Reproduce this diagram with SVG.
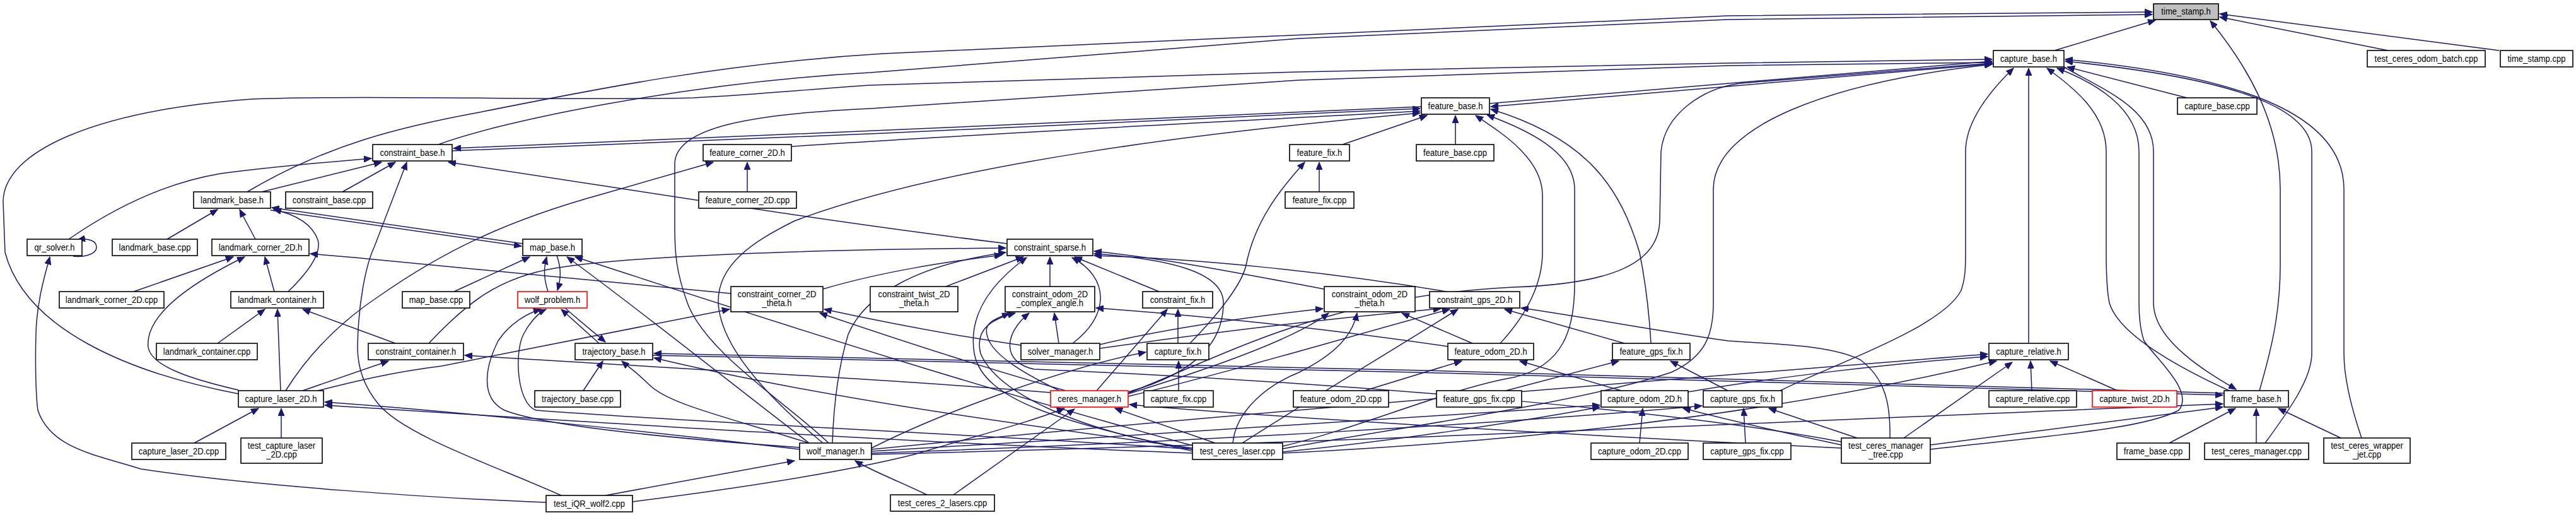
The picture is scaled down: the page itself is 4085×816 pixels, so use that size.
<svg xmlns="http://www.w3.org/2000/svg" width="4085" height="816" viewBox="0 0 4085 816">
<style>
.n rect{fill:#fff;stroke:#000;stroke-width:1.6}
.r rect{stroke:#ff0000}
.g rect{fill:#bfbfbf}
text{font-family:"Liberation Sans",Arial,sans-serif;font-size:15px;text-anchor:middle;fill:#000}
#edges path{fill:none;stroke:#191970;stroke-width:1.5;marker-end:url(#a)}
</style>
<defs><marker id="a" markerUnits="userSpaceOnUse" markerWidth="13" markerHeight="10" refX="12" refY="5" orient="auto" viewBox="0 0 13 10"><path d="M0,0L12,5L0,10z" fill="#191970" stroke="#191970"/></marker></defs>
<rect width="4085" height="816" fill="#fff"/>
<g id="edges">
<path d="M3258,80 L3418,32"/>
<path d="M3583,619 C3600,560 3616,500 3616,420 L3616,300 C3616,190 3560,100 3505,33"/>
<path d="M3787,80 L3520,27"/>
<path d="M3963,80 L3520,22"/>
<path d="M392,304 C520,228 640,200 760,178 C950,140 1150,100 1400,85 L2740,25 L3413,19"/>
<path d="M695,229 C800,190 1100,130 1380,115 L2060,61 L2740,31 L3413,23"/>
<path d="M2362,164 L3159,97"/>
<path d="M3161,101 L2364,169"/>
<path d="M378,624 C200,590 40,520 8,400 L5,320 C5,240 150,175 400,157 C600,150 900,160 1100,155 C1200,150 1300,140 1380,135 L2060,114 L2740,100 L3159,94"/>
<path d="M1314,702 C1250,640 1120,560 1090,480 C1072,430 1070,400 1070,360 L1070,260 C1070,200 1200,180 1380,172 L2060,127 L2740,104 L3159,99"/>
<path d="M3217,544 L3217,108"/>
<path d="M2823,619 C2900,580 3080,520 3110,460 C3117,440 3117,420 3117,400 L3117,240 C3117,190 3160,140 3193,108"/>
<path d="M3535,619 C3450,580 3360,530 3345,480 C3341,460 3340,430 3340,400 L3340,240 C3340,180 3290,140 3246,108"/>
<path d="M3061,712 C3250,690 3400,680 3455,650 C3480,620 3420,570 3400,540 C3393,520 3392,500 3392,480 L3392,240 C3392,170 3320,130 3262,108"/>
<path d="M3273,106 C3330,140 3415,170 3415,240 L3415,480 C3415,540 3500,590 3546,617"/>
<path d="M3468,155 L3278,106"/>
<path d="M3592,702 C3630,650 3666,600 3666,560 L3666,240 C3666,160 3500,120 3275,97"/>
<path d="M3745,694 C3730,650 3717,600 3717,560 L3717,300 C3717,180 3550,120 3275,94"/>
<path d="M1789,623 C1950,560 2100,470 2400,455 C2550,450 2630,420 2632,350 L2634,240 C2640,180 2700,140 2760,132 L3159,100"/>
<path d="M2034,711 C2200,680 2500,640 2650,590 C2705,565 2717,530 2717,480 L2717,300 C2717,200 2900,130 3159,102"/>
<path d="M717,239 C1200,220 1800,195 2252,172"/>
<path d="M2254,169 C1800,190 1200,215 719,235"/>
<path d="M1256,232 C1500,215 1900,195 2252,176"/>
<path d="M1305,702 C1230,640 1150,560 1140,490 C1130,420 1200,380 1260,350 C1500,260 1900,210 2252,179"/>
<path d="M2129,229 L2263,183"/>
<path d="M2308,229 L2308,183"/>
<path d="M2379,544 C2420,500 2446,450 2446,400 L2446,310 C2446,250 2380,210 2340,183"/>
<path d="M2034,707 C2150,680 2300,615 2400,598 C2480,580 2497,520 2497,450 L2497,300 C2497,240 2420,205 2358,182"/>
<path d="M2618,544 C2615,490 2610,450 2600,400 C2570,300 2520,220 2364,173"/>
<path d="M109,379 C180,330 260,290 350,275 C450,262 520,257 589,251"/>
<path d="M415,304 L605,257"/>
<path d="M543,304 L627,257"/>
<path d="M890,785 C790,740 640,690 600,640 C575,610 567,580 567,550 C568,480 580,420 594,390 L645,257"/>
<path d="M1597,386 C1300,350 1000,300 711,257"/>
<path d="M265,379 L345,332"/>
<path d="M405,379 L380,332"/>
<path d="M457,462 C490,430 510,400 504,380 C495,355 470,340 434,332"/>
<path d="M829,386 L431,329"/>
<path d="M429,333 L827,390"/>
<path d="M720,462 L840,407"/>
<path d="M869,462 C862,440 862,425 867,407"/>
<path d="M1283,702 C1150,600 1000,480 899,407"/>
<path d="M1891,706 C1500,600 1200,500 912,407"/>
<path d="M883,405 C890,425 890,440 884,460"/>
<path d="M950,544 L890,490"/>
<path d="M1268,709 C1000,690 850,670 800,650 C760,630 770,580 790,540 C810,510 840,495 858,490"/>
<path d="M1891,712 C1600,690 1100,670 850,650 C820,640 815,560 830,530 C840,510 855,495 866,490"/>
<path d="M896,488 C915,505 940,525 960,542"/>
<path d="M3527,623 C3000,605 2040,580 1360,567 L1037,560"/>
<path d="M1035,563 L1360,570 C2040,583 3000,609 3525,626"/>
<path d="M925,619 L956,572"/>
<path d="M1283,702 C1150,660 1060,640 1030,610 C1010,590 995,580 986,572"/>
<path d="M1891,710 C1600,670 1300,630 1037,567"/>
<path d="M1305,458 C1400,430 1500,415 1589,404"/>
<path d="M680,544 C740,480 790,440 880,425 C1000,405 1300,395 1595,393"/>
<path d="M1500,454 L1623,407"/>
<path d="M1665,454 L1665,407"/>
<path d="M1838,462 L1704,407"/>
<path d="M1701,544 C1760,500 1760,440 1700,408"/>
<path d="M1891,715 C1700,670 1560,640 1545,560 C1535,500 1570,450 1628,408"/>
<path d="M1789,621 C1900,590 1940,540 1940,480 C1940,430 1850,410 1735,402"/>
<path d="M1320,702 C1322,640 1330,580 1345,530 C1370,470 1450,420 1595,400"/>
<path d="M2100,458 C1950,430 1850,410 1735,398"/>
<path d="M2294,462 C2100,430 1900,410 1735,405"/>
<path d="M1679,544 L1672,496"/>
<path d="M1680,619 C1620,590 1570,560 1565,530 C1560,510 1580,505 1601,496"/>
<path d="M1891,712 C1700,680 1580,620 1555,560 C1545,520 1575,505 1610,496"/>
<path d="M2296,549 C2100,520 1900,500 1738,488"/>
<path d="M2920,700 C2600,640 2000,600 1640,585 C1590,575 1590,530 1632,496"/>
<path d="M504,619 C560,605 620,590 700,580 C850,550 1000,520 1157,490"/>
<path d="M1619,547 C1500,530 1400,510 1307,490"/>
<path d="M1690,619 C1550,580 1400,530 1300,496"/>
<path d="M212,462 L370,407"/>
<path d="M435,462 L420,407"/>
<path d="M378,618 C300,600 240,580 235,550 C230,500 300,450 388,407"/>
<path d="M1159,465 C900,440 700,420 492,402"/>
<path d="M345,544 L420,490"/>
<path d="M445,619 L440,490"/>
<path d="M627,544 L480,490"/>
<path d="M480,619 L616,572"/>
<path d="M1666,622 C1400,600 1000,580 737,563"/>
<path d="M1185,304 L1185,257"/>
<path d="M453,619 C490,560 540,510 600,470 C700,400 800,350 957,307 L1131,257"/>
<path d="M2092,304 L2092,257"/>
<path d="M1887,544 C1930,500 1970,450 1976,420 C1990,350 2030,300 2069,257"/>
<path d="M1868,544 L1868,490"/>
<path d="M1739,619 L1851,490"/>
<path d="M1869,619 L1869,572"/>
<path d="M1382,710 C1500,650 1700,580 1817,558"/>
<path d="M2335,544 L2223,496"/>
<path d="M1744,546 C1850,520 2000,500 2098,489"/>
<path d="M1789,624 C1900,590 2050,540 2107,496"/>
<path d="M1955,702 C1960,650 2010,610 2060,590 C2120,560 2145,530 2152,496"/>
<path d="M1970,702 C2050,650 2200,560 2312,490"/>
<path d="M1789,628 C1950,590 2150,530 2299,490"/>
<path d="M1744,552 C1900,530 2100,505 2285,489"/>
<path d="M2576,544 L2386,490"/>
<path d="M2997,694 C2998,640 2990,600 2950,570 C2900,545 2800,545 2740,540 C2600,520 2500,500 2412,488"/>
<path d="M2164,619 L2318,572"/>
<path d="M2571,619 L2410,572"/>
<path d="M2388,619 L2567,572"/>
<path d="M2740,619 L2649,572"/>
<path d="M3222,619 L3220,572"/>
<path d="M3358,619 L3251,572"/>
<path d="M3019,694 L3191,574"/>
<path d="M2034,718 C2400,700 2800,660 3166,572"/>
<path d="M2677,621 C2800,600 3000,575 3152,565"/>
<path d="M1382,712 C2000,650 2800,590 3152,561"/>
<path d="M2600,702 L2605,647"/>
<path d="M1382,715 C1800,690 2300,660 2537,642"/>
<path d="M2920,705 C2800,680 2720,660 2669,647"/>
<path d="M2034,716 C2200,700 2400,670 2537,645"/>
<path d="M2768,702 L2765,647"/>
<path d="M2945,694 L2805,647"/>
<path d="M1382,718 C1900,700 2400,670 2699,643"/>
<path d="M3440,702 L3545,647"/>
<path d="M3578,702 L3578,647"/>
<path d="M3712,694 L3613,647"/>
<path d="M3061,705 C3250,680 3400,660 3525,645"/>
<path d="M1382,720 C2200,700 3000,660 3525,640"/>
<path d="M960,785 L1260,730"/>
<path d="M1470,784 C1420,760 1380,745 1356,730"/>
<path d="M1927,702 L1768,647"/>
<path d="M1512,784 L1704,648"/>
<path d="M1003,795 C1200,770 1350,745 1450,720 C1550,690 1630,670 1688,647"/>
<path d="M2920,710 C2500,690 2000,660 1791,641"/>
<path d="M308,702 L410,647"/>
<path d="M446,694 L446,647"/>
<path d="M1268,712 C1000,680 700,650 515,637"/>
<path d="M1891,718 C1400,700 800,660 515,642"/>
<path d="M116,406 C135,408 153,402 153,392 C153,381 140,377 123,380"/>
<path d="M866,796 C700,790 400,770 223,743 C150,720 80,710 60,650 C56,620 56,560 57,530 C58,480 70,440 79,407"/>
</g>
<g id="n_time_stamp_h" class="n g"><rect x="3415" y="6" width="103" height="25"/><text transform="translate(3466.5,23) scale(0.87,1)">time_stamp.h</text></g>
<g id="n_capture_base_h" class="n"><rect x="3161" y="80" width="112" height="26"/><text transform="translate(3217,98) scale(0.87,1)">capture_base.h</text></g>
<g id="n_test_ceres_odom_batch_cpp" class="n"><rect x="3754" y="80" width="187" height="26"/><text transform="translate(3847.5,98) scale(0.87,1)">test_ceres_odom_batch.cpp</text></g>
<g id="n_time_stamp_cpp" class="n"><rect x="3965" y="80" width="115" height="26"/><text transform="translate(4022.5,98) scale(0.87,1)">time_stamp.cpp</text></g>
<g id="n_feature_base_h" class="n"><rect x="2254" y="155" width="108" height="26"/><text transform="translate(2308,173) scale(0.87,1)">feature_base.h</text></g>
<g id="n_capture_base_cpp" class="n"><rect x="3453" y="155" width="126" height="26"/><text transform="translate(3516,173) scale(0.87,1)">capture_base.cpp</text></g>
<g id="n_constraint_base_h" class="n"><rect x="591" y="229" width="126" height="26"/><text transform="translate(654,247) scale(0.87,1)">constraint_base.h</text></g>
<g id="n_feature_corner_2D_h" class="n"><rect x="1115" y="229" width="140" height="26"/><text transform="translate(1185,247) scale(0.87,1)">feature_corner_2D.h</text></g>
<g id="n_feature_fix_h" class="n"><rect x="2045" y="229" width="95" height="26"/><text transform="translate(2092.5,247) scale(0.87,1)">feature_fix.h</text></g>
<g id="n_feature_base_cpp" class="n"><rect x="2246" y="229" width="123" height="26"/><text transform="translate(2307.5,247) scale(0.87,1)">feature_base.cpp</text></g>
<g id="n_landmark_base_h" class="n"><rect x="307" y="304" width="122" height="26"/><text transform="translate(368,322) scale(0.87,1)">landmark_base.h</text></g>
<g id="n_constraint_base_cpp" class="n"><rect x="453" y="304" width="138" height="26"/><text transform="translate(522,322) scale(0.87,1)">constraint_base.cpp</text></g>
<g id="n_feature_corner_2D_cpp" class="n"><rect x="1108" y="304" width="155" height="26"/><text transform="translate(1185.5,322) scale(0.87,1)">feature_corner_2D.cpp</text></g>
<g id="n_feature_fix_cpp" class="n"><rect x="2038" y="304" width="109" height="26"/><text transform="translate(2092.5,322) scale(0.87,1)">feature_fix.cpp</text></g>
<g id="n_qr_solver_h" class="n"><rect x="43" y="379" width="87" height="26"/><text transform="translate(86.5,397) scale(0.87,1)">qr_solver.h</text></g>
<g id="n_landmark_base_cpp" class="n"><rect x="178" y="379" width="135" height="26"/><text transform="translate(245.5,397) scale(0.87,1)">landmark_base.cpp</text></g>
<g id="n_landmark_corner_2D_h" class="n"><rect x="336" y="379" width="154" height="26"/><text transform="translate(413,397) scale(0.87,1)">landmark_corner_2D.h</text></g>
<g id="n_map_base_h" class="n"><rect x="829" y="379" width="94" height="26"/><text transform="translate(876,397) scale(0.87,1)">map_base.h</text></g>
<g id="n_constraint_sparse_h" class="n"><rect x="1597" y="379" width="136" height="26"/><text transform="translate(1665,397) scale(0.87,1)">constraint_sparse.h</text></g>
<g id="n_landmark_corner_2D_cpp" class="n"><rect x="94" y="462" width="166" height="26"/><text transform="translate(177,480) scale(0.87,1)">landmark_corner_2D.cpp</text></g>
<g id="n_landmark_container_h" class="n"><rect x="366" y="462" width="147" height="26"/><text transform="translate(439.5,480) scale(0.87,1)">landmark_container.h</text></g>
<g id="n_map_base_cpp" class="n"><rect x="638" y="462" width="107" height="26"/><text transform="translate(691.5,480) scale(0.87,1)">map_base.cpp</text></g>
<g id="n_wolf_problem_h" class="n r"><rect x="821" y="462" width="110" height="26"/><text transform="translate(876,480) scale(0.87,1)">wolf_problem.h</text></g>
<g id="n_constraint_corner_2D_theta_h" class="n"><rect x="1159" y="454" width="146" height="40"/><text transform="translate(1232,471) scale(0.87,1)">constraint_corner_2D</text><text transform="translate(1232,485) scale(0.87,1)">_theta.h</text></g>
<g id="n_constraint_twist_2D_theta_h" class="n"><rect x="1380" y="454" width="139" height="40"/><text transform="translate(1449.5,471) scale(0.87,1)">constraint_twist_2D</text><text transform="translate(1449.5,485) scale(0.87,1)">_theta.h</text></g>
<g id="n_constraint_odom_2D_complex_angle_h" class="n"><rect x="1594" y="454" width="142" height="40"/><text transform="translate(1665,471) scale(0.87,1)">constraint_odom_2D</text><text transform="translate(1665,485) scale(0.87,1)">_complex_angle.h</text></g>
<g id="n_constraint_fix_h" class="n"><rect x="1812" y="462" width="111" height="26"/><text transform="translate(1867.5,480) scale(0.87,1)">constraint_fix.h</text></g>
<g id="n_constraint_odom_2D_theta_h" class="n"><rect x="2100" y="454" width="144" height="40"/><text transform="translate(2172,471) scale(0.87,1)">constraint_odom_2D</text><text transform="translate(2172,485) scale(0.87,1)">_theta.h</text></g>
<g id="n_constraint_gps_2D_h" class="n"><rect x="2267" y="462" width="143" height="26"/><text transform="translate(2338.5,480) scale(0.87,1)">constraint_gps_2D.h</text></g>
<g id="n_landmark_container_cpp" class="n"><rect x="248" y="544" width="160" height="26"/><text transform="translate(328,562) scale(0.87,1)">landmark_container.cpp</text></g>
<g id="n_constraint_container_h" class="n"><rect x="584" y="544" width="151" height="26"/><text transform="translate(659.5,562) scale(0.87,1)">constraint_container.h</text></g>
<g id="n_trajectory_base_h" class="n"><rect x="912" y="544" width="123" height="26"/><text transform="translate(973.5,562) scale(0.87,1)">trajectory_base.h</text></g>
<g id="n_solver_manager_h" class="n"><rect x="1619" y="544" width="125" height="26"/><text transform="translate(1681.5,562) scale(0.87,1)">solver_manager.h</text></g>
<g id="n_capture_fix_h" class="n"><rect x="1819" y="544" width="98" height="26"/><text transform="translate(1868,562) scale(0.87,1)">capture_fix.h</text></g>
<g id="n_feature_odom_2D_h" class="n"><rect x="2296" y="544" width="136" height="26"/><text transform="translate(2364,562) scale(0.87,1)">feature_odom_2D.h</text></g>
<g id="n_feature_gps_fix_h" class="n"><rect x="2557" y="544" width="123" height="26"/><text transform="translate(2618.5,562) scale(0.87,1)">feature_gps_fix.h</text></g>
<g id="n_capture_relative_h" class="n"><rect x="3154" y="544" width="126" height="26"/><text transform="translate(3217,562) scale(0.87,1)">capture_relative.h</text></g>
<g id="n_capture_laser_2D_h" class="n"><rect x="378" y="619" width="135" height="26"/><text transform="translate(445.5,637) scale(0.87,1)">capture_laser_2D.h</text></g>
<g id="n_trajectory_base_cpp" class="n"><rect x="848" y="619" width="136" height="26"/><text transform="translate(916,637) scale(0.87,1)">trajectory_base.cpp</text></g>
<g id="n_ceres_manager_h" class="n r"><rect x="1666" y="619" width="123" height="26"/><text transform="translate(1727.5,637) scale(0.87,1)">ceres_manager.h</text></g>
<g id="n_capture_fix_cpp" class="n"><rect x="1814" y="619" width="110" height="26"/><text transform="translate(1869,637) scale(0.87,1)">capture_fix.cpp</text></g>
<g id="n_feature_odom_2D_cpp" class="n"><rect x="2051" y="619" width="151" height="26"/><text transform="translate(2126.5,637) scale(0.87,1)">feature_odom_2D.cpp</text></g>
<g id="n_feature_gps_fix_cpp" class="n"><rect x="2278" y="619" width="135" height="26"/><text transform="translate(2345.5,637) scale(0.87,1)">feature_gps_fix.cpp</text></g>
<g id="n_capture_odom_2D_h" class="n"><rect x="2539" y="619" width="138" height="26"/><text transform="translate(2608,637) scale(0.87,1)">capture_odom_2D.h</text></g>
<g id="n_capture_gps_fix_h" class="n"><rect x="2701" y="619" width="125" height="26"/><text transform="translate(2763.5,637) scale(0.87,1)">capture_gps_fix.h</text></g>
<g id="n_capture_relative_cpp" class="n"><rect x="3154" y="619" width="139" height="26"/><text transform="translate(3223.5,637) scale(0.87,1)">capture_relative.cpp</text></g>
<g id="n_capture_twist_2D_h" class="n r"><rect x="3318" y="619" width="134" height="26"/><text transform="translate(3385,637) scale(0.87,1)">capture_twist_2D.h</text></g>
<g id="n_frame_base_h" class="n"><rect x="3527" y="619" width="102" height="26"/><text transform="translate(3578,637) scale(0.87,1)">frame_base.h</text></g>
<g id="n_capture_laser_2D_cpp" class="n"><rect x="209" y="702" width="149" height="26"/><text transform="translate(283.5,720) scale(0.87,1)">capture_laser_2D.cpp</text></g>
<g id="n_test_capture_laser_2D_cpp" class="n"><rect x="382" y="694" width="129" height="40"/><text transform="translate(446.5,711) scale(0.87,1)">test_capture_laser</text><text transform="translate(446.5,725) scale(0.87,1)">_2D.cpp</text></g>
<g id="n_wolf_manager_h" class="n"><rect x="1268" y="702" width="114" height="26"/><text transform="translate(1325,720) scale(0.87,1)">wolf_manager.h</text></g>
<g id="n_test_ceres_laser_cpp" class="n"><rect x="1891" y="702" width="143" height="26"/><text transform="translate(1962.5,720) scale(0.87,1)">test_ceres_laser.cpp</text></g>
<g id="n_capture_odom_2D_cpp" class="n"><rect x="2523" y="702" width="154" height="26"/><text transform="translate(2600,720) scale(0.87,1)">capture_odom_2D.cpp</text></g>
<g id="n_capture_gps_fix_cpp" class="n"><rect x="2701" y="702" width="139" height="26"/><text transform="translate(2770.5,720) scale(0.87,1)">capture_gps_fix.cpp</text></g>
<g id="n_test_ceres_manager_tree_cpp" class="n"><rect x="2920" y="694" width="141" height="40"/><text transform="translate(2990.5,711) scale(0.87,1)">test_ceres_manager</text><text transform="translate(2990.5,725) scale(0.87,1)">_tree.cpp</text></g>
<g id="n_frame_base_cpp" class="n"><rect x="3357" y="702" width="115" height="26"/><text transform="translate(3414.5,720) scale(0.87,1)">frame_base.cpp</text></g>
<g id="n_test_ceres_manager_cpp" class="n"><rect x="3496" y="702" width="165" height="26"/><text transform="translate(3578.5,720) scale(0.87,1)">test_ceres_manager.cpp</text></g>
<g id="n_test_ceres_wrapper_jet_cpp" class="n"><rect x="3685" y="694" width="137" height="40"/><text transform="translate(3753.5,711) scale(0.87,1)">test_ceres_wrapper</text><text transform="translate(3753.5,725) scale(0.87,1)">_jet.cpp</text></g>
<g id="n_test_iQR_wolf2_cpp" class="n"><rect x="866" y="785" width="137" height="26"/><text transform="translate(934.5,803) scale(0.87,1)">test_iQR_wolf2.cpp</text></g>
<g id="n_test_ceres_2_lasers_cpp" class="n"><rect x="1412" y="784" width="165" height="26"/><text transform="translate(1494.5,802) scale(0.87,1)">test_ceres_2_lasers.cpp</text></g>
</svg>
